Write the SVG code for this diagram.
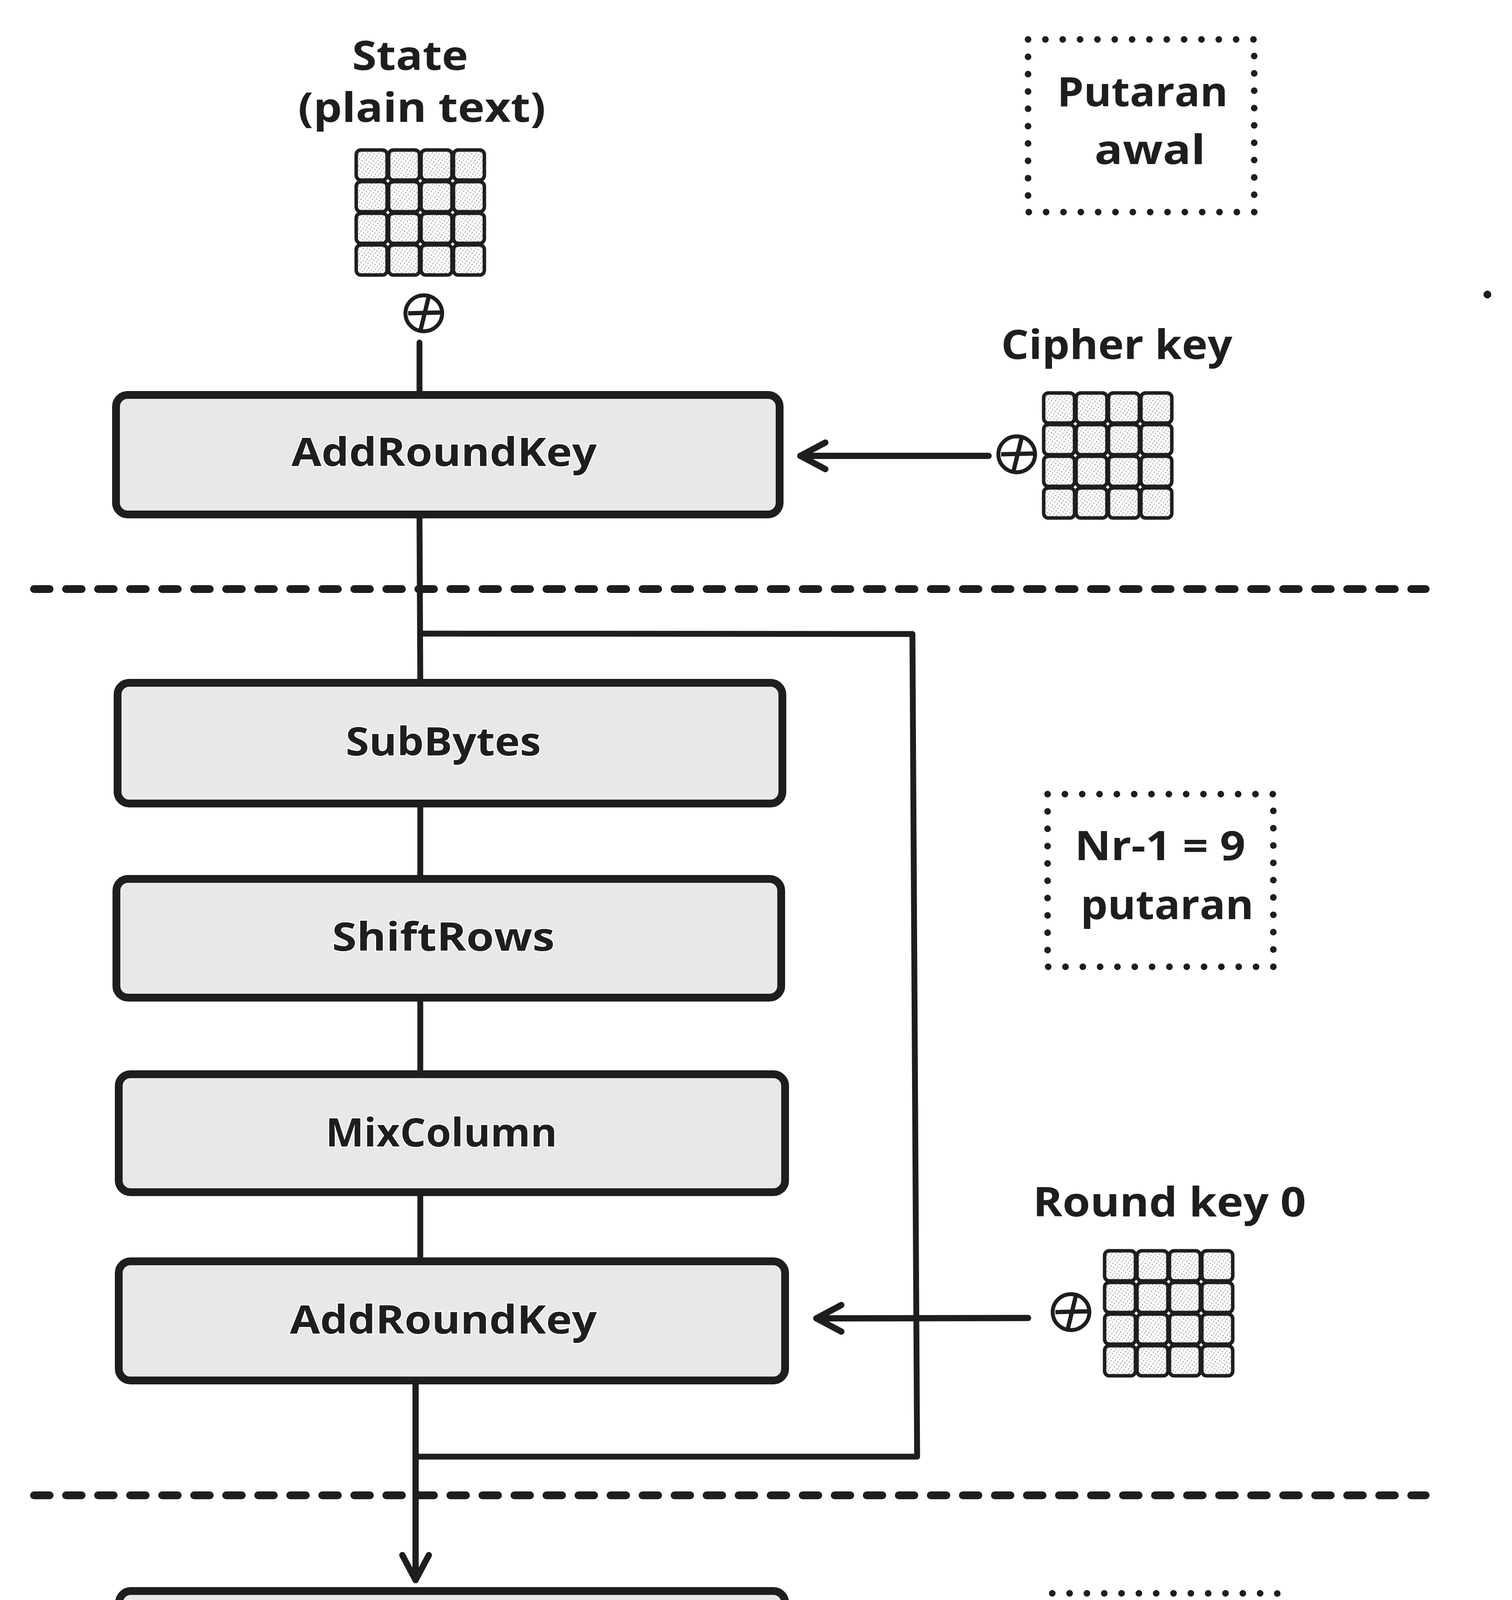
<svg xmlns="http://www.w3.org/2000/svg" xmlns:xlink="http://www.w3.org/1999/xlink" width="3871" height="6533" viewBox="0 0 3871 6533">
<style>
.bg{fill:#ffffff}
.box{fill:#e8e8e8;stroke:#1e1e1e;stroke-width:20;stroke-linejoin:round}
.blabel{font-family:"Open Sans","Liberation Sans",sans-serif;font-weight:700;font-size:100px;fill:#1e1e1e;text-anchor:middle;stroke:#ffffff;stroke-width:5;paint-order:stroke}
.label{font-family:"Open Sans","Liberation Sans",sans-serif;font-weight:700;font-size:104px;fill:#1e1e1e;text-anchor:middle}
.line{fill:none;stroke:#1e1e1e;stroke-width:15;stroke-linecap:round;stroke-linejoin:round}
.arrow{fill:none;stroke:#1e1e1e;stroke-width:16;stroke-linecap:round}
.sep{fill:none;stroke:#1e1e1e;stroke-width:20;stroke-linecap:round;stroke-dasharray:40 42}
.dots{fill:none;stroke:#1e1e1e;stroke-width:17;stroke-linecap:round;stroke-dasharray:0 1}
.cell{fill:url(#hatch);stroke:#1e1e1e;stroke-width:9}
.xor{fill:#ffffff;stroke:#1e1e1e;stroke-width:10}
.xorp{fill:none;stroke:#1e1e1e;stroke-width:11;stroke-linecap:butt}
</style>
<defs>
<pattern id="hatch" patternUnits="userSpaceOnUse" width="8" height="8" patternTransform="rotate(-55)">
<rect width="8" height="8" fill="#ffffff"/>
<line x1="0" y1="4" x2="8" y2="4" stroke="#8a8a8a" stroke-width="1.8" stroke-dasharray="4 4"/>
</pattern>
<rect id="c" width="79" height="77" rx="12" ry="12" class="cell"/>
<g id="grid">
<use xlink:href="#c" x="4" y="4"/><use xlink:href="#c" x="87" y="4"/><use xlink:href="#c" x="170" y="4"/><use xlink:href="#c" x="253" y="4"/>
<use xlink:href="#c" x="4" y="85"/><use xlink:href="#c" x="87" y="85"/><use xlink:href="#c" x="170" y="85"/><use xlink:href="#c" x="253" y="85"/>
<use xlink:href="#c" x="4" y="166"/><use xlink:href="#c" x="87" y="166"/><use xlink:href="#c" x="170" y="166"/><use xlink:href="#c" x="253" y="166"/>
<use xlink:href="#c" x="4" y="247"/><use xlink:href="#c" x="87" y="247"/><use xlink:href="#c" x="170" y="247"/><use xlink:href="#c" x="253" y="247"/>
</g>
<g id="xorsym">
<ellipse cx="0" cy="0" rx="47" ry="46" class="xor"/>
<line x1="-40" y1="0" x2="42" y2="-2" class="xorp"/>
<line x1="12" y1="-40" x2="-8" y2="42" class="xorp"/>
</g>
<marker id="arr" markerUnits="userSpaceOnUse" viewBox="-90 -50 100 100" refX="0" refY="0" markerWidth="100" markerHeight="100" orient="auto" overflow="visible">
<path d="M-64,-34 L0,0 L-64,34" fill="none" stroke="#1e1e1e" stroke-width="16" stroke-linecap="round" stroke-linejoin="round"/>
</marker>
</defs>
<rect class="bg" x="0" y="0" width="3871" height="6533"/>

<g id="separators">
<line class="sep" x1="87" y1="1508" x2="3650" y2="1508"/>
<line class="sep" x1="87" y1="3828" x2="3650" y2="3828"/>
<line class="sep" x1="87" y1="6466" x2="3650" y2="6466"/>
</g>

<g id="connectors">
<line class="line" x1="1074" y1="877" x2="1074" y2="1003"/>
<line class="line" x1="1074" y1="1327" x2="1076" y2="1740"/>
<path class="line" d="M1082,1622 L2336,1623 L2348,3729 L1066,3729"/>
<line class="line" x1="1076" y1="2067" x2="1076" y2="2242"/>
<line class="line" x1="1076" y1="2564" x2="1076" y2="2742"/>
<line class="line" x1="1076" y1="3062" x2="1076" y2="3221"/>
<line class="arrow" x1="1064" y1="3544" x2="1064" y2="4045" marker-end="url(#arr)"/>
<line class="line" x1="1073" y1="4381" x2="1073" y2="4600"/>
<line class="line" x1="1075" y1="4920" x2="1075" y2="5126"/>
<line class="arrow" x1="1094" y1="5440" x2="1096" y2="5676" marker-end="url(#arr)"/>
<line class="arrow" x1="2531" y1="1167" x2="2049" y2="1167" marker-end="url(#arr)"/>
<line class="arrow" x1="2632" y1="3374" x2="2090" y2="3375" marker-end="url(#arr)"/>
<line class="arrow" x1="2648" y1="5273" x2="2108" y2="5274" marker-end="url(#arr)"/>
</g>

<g id="state-plain">
<text class="label" x="1050" y="179" textLength="297" lengthAdjust="spacingAndGlyphs">State</text>
<text class="label" x="1080" y="312" textLength="634" lengthAdjust="spacingAndGlyphs">(plain text)</text>
<use xlink:href="#grid" x="908" y="380"/>
<use xlink:href="#xorsym" x="1085" y="802"/>
</g>

<g id="note-awal">
<rect class="dots" x="2632" y="101" width="579" height="442" pathLength="46"/>
<text class="label" x="2925" y="272" textLength="437" lengthAdjust="spacingAndGlyphs">Putaran</text>
<text class="label" x="2944" y="420" textLength="284" lengthAdjust="spacingAndGlyphs">awal</text>
</g>

<g id="stray-dot"><circle cx="3808" cy="754" r="10" fill="#1e1e1e"/></g>

<g id="cipher-key">
<text class="label" x="2859" y="919" textLength="592" lengthAdjust="spacingAndGlyphs">Cipher key</text>
<use xlink:href="#grid" x="2668" y="1002"/>
<use xlink:href="#xorsym" x="2603" y="1163"/>
</g>

<g id="addroundkey-1">
<rect class="box" x="297" y="1011" width="1699" height="306" rx="30" ry="30"/>
<text class="blabel" x="1137" y="1193" textLength="782" lengthAdjust="spacingAndGlyphs">AddRoundKey</text>
</g>

<g id="subbytes-1">
<rect class="box" x="301" y="1748" width="1702" height="309" rx="30" ry="30"/>
<text class="blabel" x="1135" y="1934" textLength="500" lengthAdjust="spacingAndGlyphs">SubBytes</text>
</g>

<g id="shiftrows-1">
<rect class="box" x="298" y="2250" width="1702" height="304" rx="30" ry="30"/>
<text class="blabel" x="1135" y="2434" textLength="570" lengthAdjust="spacingAndGlyphs">ShiftRows</text>
</g>

<g id="mixcolumn">
<rect class="box" x="304" y="2750" width="1706" height="302" rx="30" ry="30"/>
<text class="blabel" x="1130" y="2935" textLength="593" lengthAdjust="spacingAndGlyphs">MixColumn</text>
</g>

<g id="addroundkey-2">
<rect class="box" x="304" y="3229" width="1706" height="305" rx="30" ry="30"/>
<text class="blabel" x="1135" y="3414" textLength="786" lengthAdjust="spacingAndGlyphs">AddRoundKey</text>
</g>

<g id="note-rounds">
<rect class="dots" x="2682" y="2033" width="578" height="442" pathLength="46"/>
<text class="label" x="2970" y="2202" textLength="437" lengthAdjust="spacingAndGlyphs">Nr-1 = 9</text>
<text class="label" x="2988" y="2353" textLength="443" lengthAdjust="spacingAndGlyphs">putaran</text>
</g>

<g id="round-key-0">
<text class="label" x="2994" y="3114" textLength="699" lengthAdjust="spacingAndGlyphs">Round key 0</text>
<use xlink:href="#grid" x="2824" y="3198"/>
<use xlink:href="#xorsym" x="2742" y="3359"/>
</g>

<g id="subbytes-2">
<rect class="box" x="305" y="4073" width="1705" height="298" rx="30" ry="30"/>
<text class="blabel" x="1142" y="4254" textLength="502" lengthAdjust="spacingAndGlyphs">SubBytes</text>
</g>

<g id="note-akhir">
<rect class="dots" x="2694" y="4079" width="576" height="444" pathLength="46"/>
<text class="label" x="2985" y="4249" textLength="440" lengthAdjust="spacingAndGlyphs">Putaran</text>
<text class="label" x="3003" y="4397" textLength="296" lengthAdjust="spacingAndGlyphs">akhir</text>
</g>

<g id="shiftrows-2">
<rect class="box" x="305" y="4608" width="1702" height="302" rx="30" ry="30"/>
<text class="blabel" x="1140" y="4794" textLength="573" lengthAdjust="spacingAndGlyphs">ShiftRows</text>
</g>

<g id="round-key-10">
<text class="label" x="3009" y="5013" textLength="748" lengthAdjust="spacingAndGlyphs">Round key 10</text>
<use xlink:href="#grid" x="2840" y="5101"/>
<use xlink:href="#xorsym" x="2759" y="5258"/>
</g>

<g id="addroundkey-3">
<rect class="box" x="305" y="5134" width="1702" height="296" rx="30" ry="30"/>
<text class="blabel" x="1133" y="5315" textLength="787" lengthAdjust="spacingAndGlyphs">AddRoundKey</text>
</g>

<g id="state-cipher">
<use xlink:href="#grid" x="948" y="5728"/>
<text class="label" x="1117" y="6204" textLength="297" lengthAdjust="spacingAndGlyphs">State</text>
<text class="label" x="1143" y="6344" textLength="688" lengthAdjust="spacingAndGlyphs">(cipher text)</text>
</g>
</svg>
